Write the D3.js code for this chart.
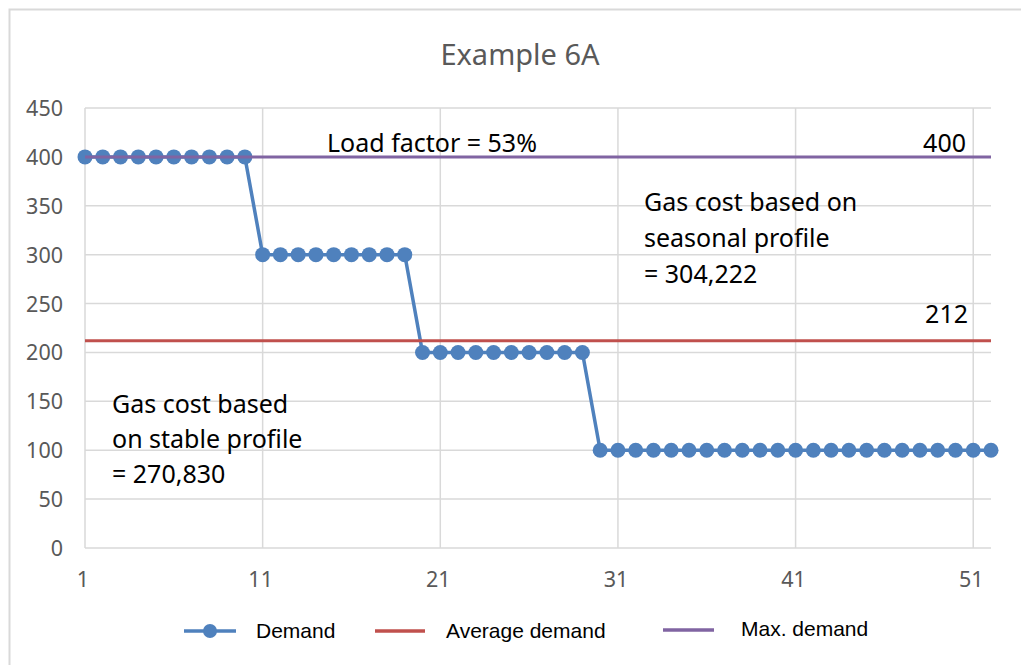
<!DOCTYPE html>
<html>
<head>
<meta charset="utf-8">
<script src="https://d3js.org/d3.v7.min.js"></script>
<style>
  body { margin: 0; background: white; }
  svg { display: block; font-family: 'Noto Sans', sans-serif; }
  .grid line { stroke: #d9d9d9; stroke-width: 1.5px; }
  .tick-label { fill: #595959; font-size: 21.5px; }
  .note { fill: black; font-size: 25px; }
  .legend text { font-family: 'Liberation Sans', Arial, sans-serif; font-size: 21px; fill: black; }
</style>
</head>
<body>
<svg id="chart" width="1021" height="665"></svg>
<script>
// demand per week (1..52)
var weeks = [1,2,3,4,5,6,7,8,9,10,11,12,13,14,15,16,17,18,19,20,21,22,23,24,25,26,
             27,28,29,30,31,32,33,34,35,36,37,38,39,40,41,42,43,44,45,46,47,48,49,50,51,52];
var demand = [400,400,400,400,400,400,400,400,400,400,
              300,300,300,300,300,300,300,300,300,
              200,200,200,200,200,200,200,200,200,200,
              100,100,100,100,100,100,100,100,100,100,100,100,100,100,100,100,100,100,100,100,100,100,100];
var avgDemand = 212;
var maxDemand = 400;
var xTicks = [1, 11, 21, 31, 41, 51];
var yTicks = [0, 50, 100, 150, 200, 250, 300, 350, 400, 450];

var svg = d3.select("#chart");

// chart border (right/bottom run off the picture)
svg.append("rect")
  .attr("x", 9.5).attr("y", 9.5)
  .attr("width", 1040).attr("height", 700)
  .attr("fill", "none").attr("stroke", "#d9d9d9").attr("stroke-width", 2);

var x = d3.scaleLinear().domain([1, 52]).range([85, 991]);
var y = d3.scaleLinear().domain([0, 450]).range([548, 108]);

// gridlines
var grid = svg.append("g").attr("class", "grid");
grid.selectAll(".hg").data(yTicks).enter().append("line")
  .attr("x1", x(1)).attr("x2", x(52))
  .attr("y1", function (d) { return y(d); }).attr("y2", function (d) { return y(d); });
grid.selectAll(".vg").data(xTicks).enter().append("line")
  .attr("x1", function (d) { return x(d); }).attr("x2", function (d) { return x(d); })
  .attr("y1", y(0)).attr("y2", y(450));

// tick labels
svg.append("g").selectAll("text").data(yTicks).enter().append("text")
  .attr("class", "tick-label")
  .attr("x", 63).attr("y", function (d) { return y(d) + 8; })
  .attr("text-anchor", "end")
  .text(function (d) { return d; });
svg.append("g").selectAll("text").data(xTicks).enter().append("text")
  .attr("class", "tick-label")
  .attr("x", function (d) { return x(d) - 2; }).attr("y", 587)
  .attr("text-anchor", "middle")
  .text(function (d) { return d; });

// demand series
var line = d3.line()
  .x(function (d, i) { return x(weeks[i]); })
  .y(function (d) { return y(d); });
svg.append("path").datum(demand)
  .attr("d", line)
  .attr("fill", "none").attr("stroke", "#4f81bd").attr("stroke-width", 3.5);
svg.append("g").selectAll("circle").data(demand).enter().append("circle")
  .attr("cx", function (d, i) { return x(weeks[i]); })
  .attr("cy", function (d) { return y(d); })
  .attr("r", 7.5)
  .attr("fill", "#4f81bd");

// average and max lines
svg.append("line")
  .attr("x1", x(1)).attr("x2", x(52))
  .attr("y1", y(avgDemand)).attr("y2", y(avgDemand))
  .attr("stroke", "#c0504d").attr("stroke-width", 3);
svg.append("line")
  .attr("x1", x(1)).attr("x2", x(52))
  .attr("y1", y(maxDemand)).attr("y2", y(maxDemand))
  .attr("stroke", "#8064a2").attr("stroke-width", 3);

// title
svg.append("text")
  .attr("x", 520).attr("y", 65)
  .attr("text-anchor", "middle")
  .attr("fill", "#595959").attr("font-size", 29)
  .text("Example 6A");

// notes
svg.append("text").attr("class", "note")
  .attr("x", 327).attr("y", 152).text("Load factor = 53%");
svg.append("text").attr("class", "note")
  .attr("x", 966).attr("y", 152).attr("text-anchor", "end").text(maxDemand);
svg.append("text").attr("class", "note")
  .attr("x", 968).attr("y", 323).attr("text-anchor", "end").text(avgDemand);

var seasonal = ["Gas cost based on", "seasonal profile", "= 304,222"];
svg.append("g").selectAll("text").data(seasonal).enter().append("text")
  .attr("class", "note")
  .attr("x", 644).attr("y", function (d, i) { return 211 + i * 36; })
  .text(function (d) { return d; });

var stable = ["Gas cost based", "on stable profile", "= 270,830"];
svg.append("g").selectAll("text").data(stable).enter().append("text")
  .attr("class", "note")
  .attr("x", 112).attr("y", function (d, i) { return 413 + i * 35; })
  .text(function (d) { return d; });

// legend
var legend = svg.append("g").attr("class", "legend");
legend.append("line").attr("x1", 184).attr("x2", 236).attr("y1", 631).attr("y2", 631)
  .attr("stroke", "#4f81bd").attr("stroke-width", 3.5);
legend.append("circle").attr("cx", 210).attr("cy", 631).attr("r", 7).attr("fill", "#4f81bd");
legend.append("text").attr("x", 256).attr("y", 638).text("Demand");

legend.append("line").attr("x1", 375).attr("x2", 425).attr("y1", 631).attr("y2", 631)
  .attr("stroke", "#c0504d").attr("stroke-width", 3.5);
legend.append("text").attr("x", 446).attr("y", 638).text("Average demand");

legend.append("line").attr("x1", 663).attr("x2", 714).attr("y1", 630).attr("y2", 630)
  .attr("stroke", "#8064a2").attr("stroke-width", 3.5);
legend.append("text").attr("x", 741).attr("y", 636).text("Max. demand");
</script>
</body>
</html>
